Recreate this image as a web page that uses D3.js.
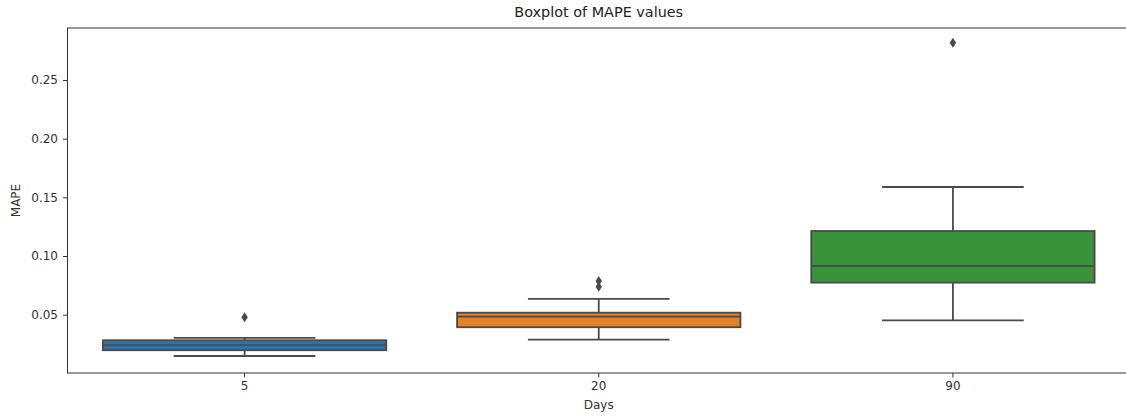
<!DOCTYPE html>
<html>
<head>
<meta charset="utf-8">
<script src="https://cdn.jsdelivr.net/npm/d3@7"></script>
<style>
  body { margin: 0; background: #fff; }
  svg { display: block; font-family: "DejaVu Sans", sans-serif; }
</style>
</head>
<body>
<svg id="chart" width="1126" height="418"></svg>
<script>
// categories (days) and the box statistics
const days = ["5", "20", "90"];
const q1s = [0.0197, 0.0393, 0.0773];
const medians = [0.0240, 0.0483, 0.0915];
const q3s = [0.0282, 0.0517, 0.1213];
const whiskerLow = [0.0148, 0.0287, 0.0452];
const whiskerHigh = [0.0302, 0.0634, 0.1588];
const outliers = [[0.0478], [0.0787, 0.0737], [0.2818]];
const colors = ["#3274a1", "#e1812c", "#3a923a"];
const yTicks = [0.05, 0.10, 0.15, 0.20, 0.25];

var svg = d3.select("#chart");
var margin = {left: 67.5, right: 1130, top: 28, bottom: 373};
var lineColor = "#4a4a4a";

var x = d3.scaleBand()
  .domain(days)
  .range([margin.left, margin.right])
  .paddingInner(0)
  .paddingOuter(0);

var y = d3.scaleLinear()
  .domain([0.0003, 0.2943])
  .range([margin.bottom, margin.top]);

var boxW = x.bandwidth() * 0.8;
var capW = boxW / 2;

// axes
var yAxis = svg.append("g")
  .attr("transform", "translate(" + margin.left + ",0)")
  .call(d3.axisLeft(y).tickValues(yTicks).tickFormat(d3.format(".2f")).tickSize(4.5).tickPadding(5));

var xAxis = svg.append("g")
  .attr("transform", "translate(0," + margin.bottom + ")")
  .call(d3.axisBottom(x).tickSize(4.5).tickPadding(4));

[xAxis, yAxis].forEach(function(a) {
  a.select(".domain").remove();
  a.selectAll("line").attr("stroke", "#333").attr("stroke-width", 1);
  a.selectAll("text").attr("fill", "#333").style("font-size", "12px").style("font-family", "DejaVu Sans");
});

// frame
svg.append("rect")
  .attr("x", margin.left)
  .attr("y", margin.top)
  .attr("width", margin.right - margin.left)
  .attr("height", margin.bottom - margin.top)
  .attr("fill", "none")
  .attr("stroke", "#333")
  .attr("stroke-width", 1);

// boxes
var g = svg.append("g");
days.forEach(function(d, i) {
  var cx = x(d) + x.bandwidth() / 2;
  // whiskers
  g.append("line")
    .attr("x1", cx).attr("x2", cx)
    .attr("y1", y(whiskerLow[i])).attr("y2", y(q1s[i]))
    .attr("stroke", lineColor).attr("stroke-width", 1.8);
  g.append("line")
    .attr("x1", cx).attr("x2", cx)
    .attr("y1", y(q3s[i])).attr("y2", y(whiskerHigh[i]))
    .attr("stroke", lineColor).attr("stroke-width", 1.8);
  // caps
  [whiskerLow[i], whiskerHigh[i]].forEach(function(v) {
    g.append("line")
      .attr("x1", cx - capW / 2).attr("x2", cx + capW / 2)
      .attr("y1", y(v)).attr("y2", y(v))
      .attr("stroke", lineColor).attr("stroke-width", 1.8);
  });
  // box
  g.append("rect")
    .attr("x", cx - boxW / 2)
    .attr("y", y(q3s[i]))
    .attr("width", boxW)
    .attr("height", y(q1s[i]) - y(q3s[i]))
    .attr("fill", colors[i])
    .attr("stroke", lineColor)
    .attr("stroke-width", 1.8);
  // median
  g.append("line")
    .attr("x1", cx - boxW / 2).attr("x2", cx + boxW / 2)
    .attr("y1", y(medians[i])).attr("y2", y(medians[i]))
    .attr("stroke", lineColor).attr("stroke-width", 1.8);
  // fliers
  outliers[i].forEach(function(v) {
    var py = y(v);
    g.append("path")
      .attr("d", "M" + cx + "," + (py - 5) + "L" + (cx + 3.2) + "," + py + "L" + cx + "," + (py + 5) + "L" + (cx - 3.2) + "," + py + "Z")
      .attr("fill", lineColor);
  });
});

// labels
svg.append("text")
  .attr("x", (margin.left + margin.right) / 2)
  .attr("y", 17)
  .attr("text-anchor", "middle")
  .attr("fill", "#222")
  .style("font-size", "14.4px")
  .text("Boxplot of MAPE values");

svg.append("text")
  .attr("x", (margin.left + margin.right) / 2)
  .attr("y", 409)
  .attr("text-anchor", "middle")
  .attr("fill", "#333")
  .style("font-size", "12px")
  .text("Days");

svg.append("text")
  .attr("transform", "translate(20," + ((margin.top + margin.bottom) / 2) + ") rotate(-90)")
  .attr("text-anchor", "middle")
  .attr("fill", "#333")
  .style("font-size", "12px")
  .text("MAPE");
</script>
</body>
</html>
